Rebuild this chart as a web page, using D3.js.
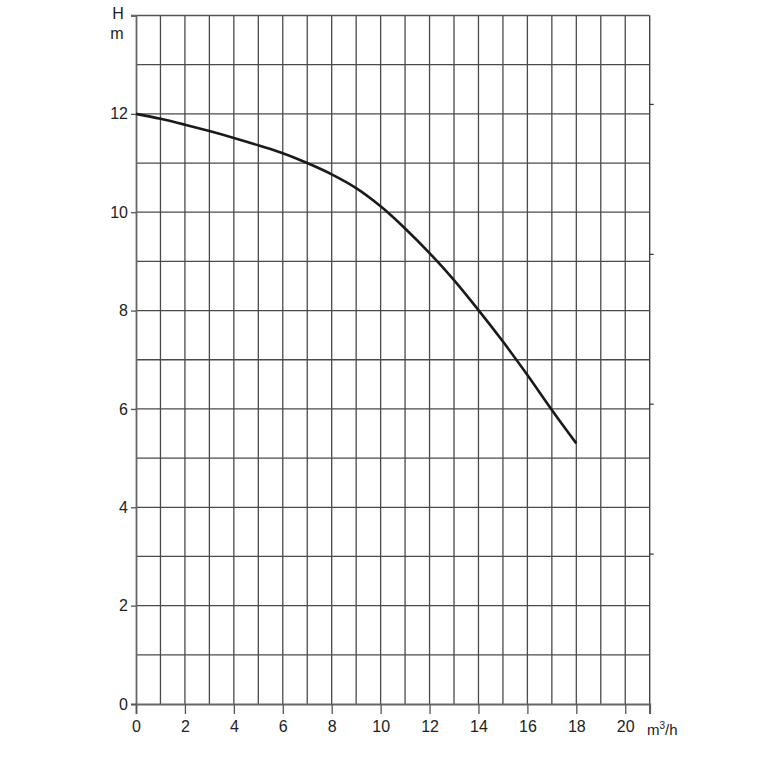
<!DOCTYPE html>
<html>
<head>
<meta charset="utf-8">
<script src="https://cdn.jsdelivr.net/npm/d3@7"></script>
<style>
  html, body { margin: 0; padding: 0; background: #fff; }
  svg { display: block; }
  text { font-family: "Liberation Sans", Arial, Helvetica, sans-serif; fill: #222; }
</style>
</head>
<body>
<svg id="chart" width="764" height="757"></svg>
<script>
// ---- data ----
const flow = [0, 1, 2, 3, 4, 5, 6, 7, 8, 9, 10, 11, 12, 13, 14, 15, 16, 17, 18];
const head = [12.0, 11.90, 11.78, 11.65, 11.51, 11.36, 11.20, 11.00, 10.77, 10.49, 10.12, 9.67, 9.17, 8.62, 8.01, 7.37, 6.69, 5.98, 5.30];
const xTickLabels = [0, 2, 4, 6, 8, 10, 12, 14, 16, 18, 20];
const yTickLabels = [0, 2, 4, 6, 8, 10, 12];
const rightTicksFt = [10, 20, 30, 40];
const yUnitTop = "H";
const yUnitBottom = "m";

// ---- layout ----
const svg = d3.select("#chart");
const mLeft = 136, mRight = 649.7, mTop = 15.5, mBottom = 704;
const x = d3.scaleLinear().domain([0, 21]).range([mLeft, mRight]);
const y = d3.scaleLinear().domain([0, 14]).range([mBottom, mTop]);
const yFt = d3.scaleLinear().domain([0, 14 / 0.3048]).range([mBottom, mTop]);

// grid
const g = svg.append("g");
g.selectAll("line.v").data(d3.range(1, 21)).enter().append("line")
  .attr("x1", d => x(d)).attr("x2", d => x(d))
  .attr("y1", y(14)).attr("y2", y(0))
  .attr("stroke", "#4a4a4a").attr("stroke-width", 1.3);
g.selectAll("line.h").data(d3.range(1, 14)).enter().append("line")
  .attr("x1", x(0)).attr("x2", x(21))
  .attr("y1", d => y(d)).attr("y2", d => y(d))
  .attr("stroke", "#4a4a4a").attr("stroke-width", 1.3);

// top and right borders
g.append("line").attr("x1", x(0) - 5).attr("x2", x(21)).attr("y1", y(14)).attr("y2", y(14))
  .attr("stroke", "#555").attr("stroke-width", 1.4);
g.append("line").attr("x1", x(21)).attr("x2", x(21)).attr("y1", y(14)).attr("y2", y(0))
  .attr("stroke", "#444").attr("stroke-width", 1.4);

// right small ticks
g.selectAll("line.rt").data(rightTicksFt).enter().append("line")
  .attr("x1", x(21)).attr("x2", x(21) + 4)
  .attr("y1", d => yFt(d)).attr("y2", d => yFt(d))
  .attr("stroke", "#333").attr("stroke-width", 1.2);

// x axis
const xAxis = d3.axisBottom(x).tickValues(xTickLabels).tickSize(10).tickPadding(7).tickFormat(d3.format("d"));
const xg = svg.append("g").attr("transform", `translate(0,${mBottom})`).call(xAxis);
xg.select(".domain").attr("stroke", "#666").attr("stroke-width", 1.8);
xg.selectAll(".tick line").attr("stroke", "#555").attr("stroke-width", 1.3);
xg.selectAll(".tick text").style("font-size", "16px").style("fill", "#222")
  .style("font-family", "'Liberation Sans', Arial, sans-serif");
// extra tick at the right edge
xg.append("line").attr("x1", x(21)).attr("x2", x(21)).attr("y1", 0).attr("y2", 10)
  .attr("stroke", "#555").attr("stroke-width", 1.3);

// y axis
const yAxis = d3.axisLeft(y).tickValues(yTickLabels).tickSize(5).tickPadding(3).tickFormat(d3.format("d"));
const yg = svg.append("g").attr("transform", `translate(${mLeft},0)`).call(yAxis);
yg.select(".domain").attr("stroke", "#666").attr("stroke-width", 1.8);
yg.selectAll(".tick line").attr("stroke", "#555").attr("stroke-width", 1.3);
yg.selectAll(".tick text").style("font-size", "16px").style("fill", "#222")
  .style("font-family", "'Liberation Sans', Arial, sans-serif");

// unit labels
svg.append("text").attr("x", 118).attr("y", 19).attr("text-anchor", "middle")
  .style("font-size", "16px").text(yUnitTop);
svg.append("text").attr("x", 117).attr("y", 39).attr("text-anchor", "middle")
  .style("font-size", "16px").text(yUnitBottom);
const xu = svg.append("text").attr("x", 647).attr("y", 735).attr("text-anchor", "start")
  .style("font-size", "15px");
xu.append("tspan").text("m");
xu.append("tspan").attr("dy", -6).style("font-size", "10px").text("3");
xu.append("tspan").attr("dy", 6).text("/h");

// curve
const line = d3.line().x((d, i) => x(flow[i])).y(d => y(d)).curve(d3.curveCatmullRom.alpha(0.5));
svg.append("path").datum(head).attr("d", line)
  .attr("fill", "none").attr("stroke", "#1a1a1a").attr("stroke-width", 2.6)
  .attr("stroke-linecap", "butt").attr("stroke-linejoin", "round");
</script>
</body>
</html>
